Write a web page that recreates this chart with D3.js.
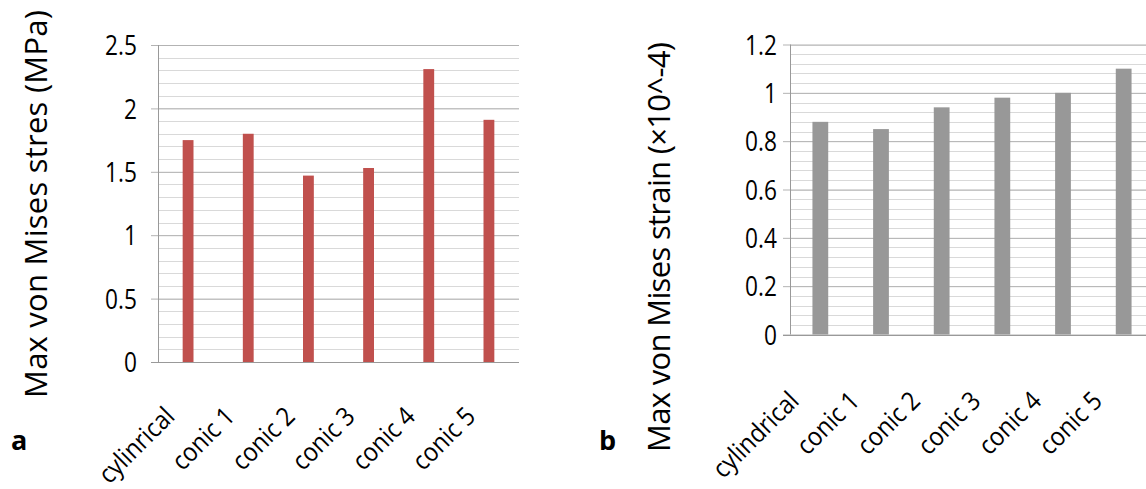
<!DOCTYPE html>
<html>
<head>
<meta charset="utf-8">
<script src="https://cdn.jsdelivr.net/npm/d3@7"></script>
<style>
  body { margin: 0; background: #fff; }
  text { font-family: "Open Sans", "Noto Sans", sans-serif; fill: #000; }
</style>
</head>
<body>
<svg id="chart" width="1146" height="489"></svg>
<script>
const
  categoriesA = ['cylinrical', 'conic 1', 'conic 2', 'conic 3', 'conic 4', 'conic 5'],
  stressValues = [1.75, 1.8, 1.47, 1.53, 2.31, 1.91],
  stressTicks = [0, 0.5, 1, 1.5, 2, 2.5],
  categoriesB = ['cylindrical', 'conic 1', 'conic 2', 'conic 3', 'conic 4', 'conic 5'],
  strainValues = [0.88, 0.85, 0.94, 0.98, 1.0, 1.1],
  strainTicks = [0, 0.2, 0.4, 0.6, 0.8, 1, 1.2];

const svg = d3.select('#chart');

function drawPanel (opts) {
  let
    g = svg.append('g'),
    x = d3.scaleBand()
      .domain(opts.categories)
      .range([opts.left, opts.right])
      .paddingInner(opts.pad)
      .paddingOuter(opts.pad / 2),
    y = d3.scaleLinear()
      .domain([0, opts.max])
      .range([opts.bottom, opts.top]);

  // minor gridlines
  let minor = d3.range(0, opts.max + 1e-9, opts.minorStep);
  g.append('g')
    .selectAll('line')
    .data(minor)
    .enter()
    .append('line')
    .attr('x1', opts.left)
    .attr('x2', opts.right)
    .attr('y1', (d) => Math.round(y(d)) + 0.5)
    .attr('y2', (d) => Math.round(y(d)) + 0.5)
    .attr('stroke', '#d9d9d9');

  // major gridlines + ticks through an axis
  let axis = d3.axisLeft(y)
    .tickValues(opts.ticks)
    .tickSize(opts.right - opts.left + 7)
    .tickFormat(d3.format('~g'));

  let ax = g.append('g')
    .attr('transform', `translate(${opts.right},0)`)
    .call(axis);

  ax.select('.domain').remove();
  ax.selectAll('.tick line').attr('stroke', '#b3b3b3');
  // calibri-ish: narrow the glyphs a bit
  ax.selectAll('.tick text')
    .attr('x', null)
    .attr('transform', `translate(${-(opts.right - opts.left) - opts.labelGap},0) scale(0.84,1)`)
    .style('font-size', '27px')
    .attr('dy', '0.36em')
    .attr('fill', '#000');

  // vertical axis line
  g.append('line')
    .attr('x1', opts.left + 0.5)
    .attr('x2', opts.left + 0.5)
    .attr('y1', opts.top)
    .attr('y2', opts.bottom)
    .attr('stroke', '#999');

  // bottom axis line
  g.append('line')
    .attr('x1', opts.left - 7)
    .attr('x2', opts.right)
    .attr('y1', Math.round(y(0)) + 0.5)
    .attr('y2', Math.round(y(0)) + 0.5)
    .attr('stroke', '#999');

  // bars
  g.append('g')
    .selectAll('rect')
    .data(opts.values)
    .enter()
    .append('rect')
    .attr('x', (d, i) => x(opts.categories[i]))
    .attr('width', x.bandwidth())
    .attr('y', (d) => y(d))
    .attr('height', (d) => y(0) - y(d))
    .attr('fill', opts.color);

  // category labels
  g.append('g')
    .selectAll('text')
    .data(opts.categories)
    .enter()
    .append('text')
    .attr('text-anchor', 'end')
    .attr('transform', (c) => `translate(${x(c) + x.bandwidth() / 2 + opts.catDx},${opts.bottom + opts.catDy}) rotate(-45) scale(0.9,1)`)
    .style('font-size', '26px')
    .text((c) => c);

  // axis title
  g.append('text')
    .attr('text-anchor', 'middle')
    .attr('transform', `translate(${opts.titleX},${opts.titleY}) rotate(-90)`)
    .attr('textLength', opts.titleLen)
    .attr('lengthAdjust', 'spacing')
    .style('font-size', '31px')
    .text(opts.title);

  // panel letter
  g.append('text')
    .attr('x', opts.letterX)
    .attr('y', 450)
    .style('font-size', '27px')
    .style('font-weight', 'bold')
    .text(opts.letter);
}

drawPanel({
  categories : categoriesA,
  values : stressValues,
  ticks : stressTicks,
  max : 2.5,
  minorStep : 0.1,
  left : 158,
  right : 519,
  top : 45,
  bottom : 362,
  pad : 0.82,
  color : '#c0504d',
  labelGap : 21,
  catDx : -12,
  catDy : 56,
  title : 'Max von Mises stres (MPa)',
  titleX : 47,
  titleY : 204,
  titleLen : 388,
  letter : 'a',
  letterX : 11
});

drawPanel({
  categories : categoriesB,
  values : strainValues,
  ticks : strainTicks,
  max : 1.2,
  minorStep : 0.04,
  left : 790,
  right : 1154,
  top : 44.5,
  bottom : 334.5,
  pad : 0.74,
  color : '#989898',
  labelGap : 13,
  catDx : -20,
  catDy : 68,
  title : 'Max von Mises strain (\u00d710^-4)',
  titleX : 670,
  titleY : 247,
  titleLen : 410,
  letter : 'b',
  letterX : 599
});
</script>
</body>
</html>
